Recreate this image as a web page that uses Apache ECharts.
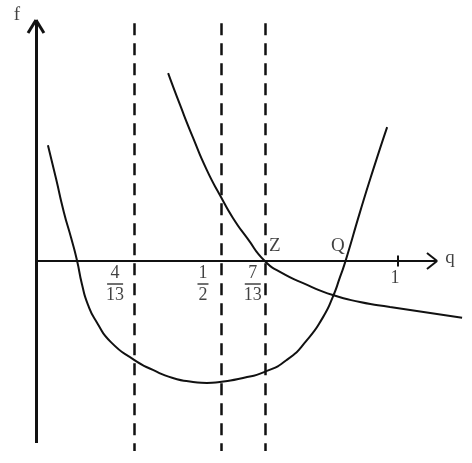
<!DOCTYPE html>
<html>
<head>
<meta charset="utf-8">
<script src="https://cdn.jsdelivr.net/npm/echarts@6/dist/echarts.min.js"></script>
<style>
html, body { margin: 0; padding: 0; background: #fff; }
#main { width: 472px; height: 463px; }
</style>
</head>
<body>
<div id="main"></div>
<script>
// U 形曲线 [q, f]
var uCurve = [
	[0.033, 0.320], [0.055, 0.229], [0.077, 0.135], [0.097, 0.064], [0.113, 0.003],
	[0.127, -0.064], [0.144, -0.122], [0.169, -0.171], [0.207, -0.224], [0.271, -0.273],
	[0.323, -0.301], [0.378, -0.323], [0.434, -0.334], [0.472, -0.337], [0.508, -0.334],
	[0.572, -0.323], [0.630, -0.307], [0.693, -0.273], [0.749, -0.218], [0.793, -0.155],
	[0.820, -0.099], [0.840, -0.044], [0.856, 0.003], [0.895, 0.135], [0.931, 0.251],
	[0.970, 0.370]
];
// 下降曲线 [q, f]
var fallCurve = [
	[0.365, 0.519], [0.398, 0.431], [0.434, 0.340], [0.472, 0.251], [0.511, 0.177],
	[0.544, 0.119], [0.583, 0.064], [0.632, 0.000], [0.674, -0.030], [0.749, -0.066],
	[0.820, -0.094], [0.895, -0.113], [0.978, -0.127], [1.177, -0.157]
];
// 虚线位置及分数标签
var dashQ = [0.271, 0.511, 0.632];
var dashNum = ['4', '1', '7'];
var dashDen = ['13', '2', '13'];
var dashTop = 0.657;
var dashBottom = -0.525;
// 坐标轴范围
var qAxisEnd = 1.108;
var fAxisTop = 0.666;
var fAxisBottom = -0.503;
var oneTick = 1;
// 交点
var zPoint = [0.632, 0];
var qPoint = [0.856, 0];

var ink = '#111';
var serif = 'Liberation Serif';

var seg = function(a, b, width, dash) {
	return [
		{ coord: a },
		{ coord: b, lineStyle: { width: width, type: dash || 'solid', color: ink } }
	];
};

var axisLines = [
	seg([0, fAxisBottom], [0, fAxisTop], 3),
	seg([-0.022, fAxisTop - 0.036], [0, fAxisTop], 3),
	seg([0.022, fAxisTop - 0.036], [0, fAxisTop], 3),
	seg([0, 0], [qAxisEnd, 0], 2),
	seg([qAxisEnd - 0.028, 0.022], [qAxisEnd, 0], 2),
	seg([qAxisEnd - 0.028, -0.022], [qAxisEnd, 0], 2),
	seg([oneTick, 0.015], [oneTick, -0.015], 2)
];
var dashLines = dashQ.map(function(q) {
	return seg([q, dashTop], [q, dashBottom], 2.5, [12, 8]);
});

var textStyle = { fontFamily: serif, fontSize: 19, color: ink };
var fracRich = {
	n: { fontFamily: serif, fontSize: 18, lineHeight: 16, color: ink, align: 'center' },
	bw: { width: 16, height: 1.5, backgroundColor: ink, align: 'center', lineHeight: 6 },
	bn: { width: 11, height: 1.5, backgroundColor: ink, align: 'center', lineHeight: 6 },
	d: { fontFamily: serif, fontSize: 18, lineHeight: 16, color: ink, align: 'center' }
};
var fracOffsets = [[-19, 23], [-18, 23], [-12, 23]];

var labelData = dashQ.map(function(q, i) {
	var bar = dashDen[i].length > 1 ? 'bw' : 'bn';
	return {
		value: [q, 0],
		label: {
			formatter: '{n|' + dashNum[i] + '}\n{' + bar + '|}\n{d|' + dashDen[i] + '}',
			rich: fracRich,
			offset: fracOffsets[i]
		}
	};
});
labelData.push(
	{ value: zPoint, label: Object.assign({ formatter: 'Z', offset: [10, -15] }, textStyle) },
	{ value: qPoint, label: Object.assign({ formatter: 'Q', offset: [-8, -15] }, textStyle) },
	{ value: [oneTick, 0], label: Object.assign({}, textStyle, { formatter: '1', offset: [-3, 17], fontSize: 18 }) },
	{ value: [qAxisEnd, 0], label: Object.assign({ formatter: 'q', offset: [13, -3] }, textStyle) },
	{ value: [0, fAxisTop], label: Object.assign({ formatter: 'f', offset: [-19, -5] }, textStyle) }
);

var curveStyle = { color: ink, width: 2 };

var option = {
	animation: false,
	backgroundColor: '#fff',
	grid: { left: 0, right: 0, top: 0, bottom: 0 },
	xAxis: { type: 'value', min: -0.0994, max: 1.2044, show: false },
	yAxis: { type: 'value', min: -0.558, max: 0.721, show: false },
	series: [
		{
			name: 'axes',
			type: 'line',
			data: [],
			silent: true,
			markLine: {
				silent: true,
				symbol: ['none', 'none'],
				label: { show: false },
				emphasis: { disabled: true },
				data: axisLines.concat(dashLines)
			}
		},
		{
			name: 'U',
			type: 'line',
			data: uCurve,
			smooth: 0.6,
			showSymbol: false,
			silent: true,
			lineStyle: curveStyle
		},
		{
			name: 'fall',
			type: 'line',
			data: fallCurve,
			smooth: 0.6,
			showSymbol: false,
			silent: true,
			lineStyle: curveStyle
		},
		{
			name: 'labels',
			type: 'scatter',
			symbolSize: 0,
			silent: true,
			label: {
				show: true,
				position: 'inside',
				align: 'center',
				verticalAlign: 'middle',
				color: ink
			},
			data: labelData
		}
	]
};

var myChart = echarts.init(document.getElementById('main'));
myChart.setOption(option);
</script>
</body>
</html>
